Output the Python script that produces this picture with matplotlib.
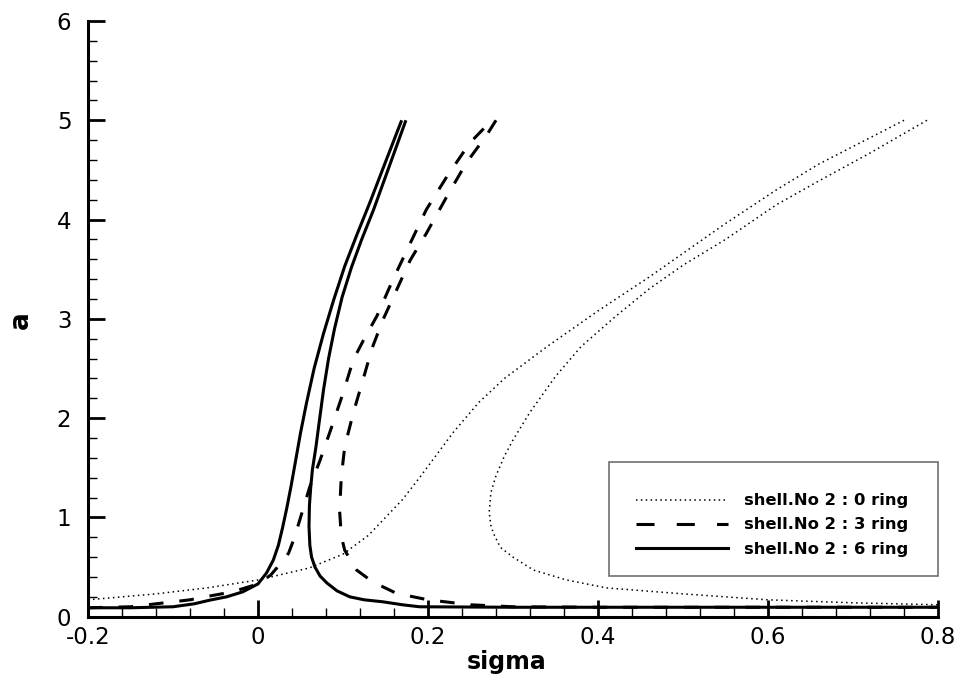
import matplotlib
matplotlib.use("Agg")
import matplotlib.pyplot as plt
from matplotlib.lines import Line2D
from matplotlib.patches import Rectangle
from matplotlib.ticker import MultipleLocator

plt.rcParams["font.family"] = ["DejaVu Sans"]
plt.rcParams["axes.unicode_minus"] = False
plt.rcParams["lines.scale_dashes"] = False

# Frequency-response curves: amplitude a versus detuning sigma.
# Each curve has a rising branch (left end up to a = 5) and a returning
# branch (from a = 5 back down to the right end).

# shell No 2, 0 ring
sigma_0ring_up = [-0.20, -0.12, -0.06, 0.00, 0.06, 0.10, 0.13, 0.15, 0.17, 0.19, 0.23,
                  0.26, 0.29, 0.34, 0.40, 0.46, 0.50, 0.55, 0.61, 0.66, 0.71, 0.76]
a_0ring_up = [0.17, 0.23, 0.29, 0.37, 0.49, 0.63, 0.82, 1.00, 1.18, 1.40, 1.86,
              2.16, 2.40, 2.72, 3.08, 3.42, 3.66, 3.96, 4.30, 4.56, 4.78, 5.00]
sigma_0ring_down = [0.787, 0.72, 0.66, 0.61, 0.55, 0.50, 0.46, 0.42, 0.38, 0.35, 0.32,
                    0.30, 0.29, 0.28, 0.274, 0.272, 0.274, 0.277, 0.285, 0.30, 0.324,
                    0.363, 0.41, 0.50, 0.60, 0.70, 0.80]
a_0ring_down = [5.00, 4.67, 4.39, 4.15, 3.80, 3.54, 3.30, 3.02, 2.72, 2.42, 2.06,
                1.78, 1.62, 1.42, 1.25, 1.05, 0.92, 0.84, 0.70, 0.60, 0.47,
                0.37, 0.29, 0.23, 0.17, 0.14, 0.12]

# shell No 2, 3 ring
sigma_3ring_up = [-0.20, -0.15, -0.10, -0.08, -0.056, -0.03, 0.00, 0.015, 0.025, 0.036,
                  0.043, 0.049, 0.055, 0.061, 0.073, 0.0866, 0.100, 0.112, 0.125, 0.140,
                  0.159, 0.179, 0.198, 0.222, 0.249, 0.275]
a_3ring_up = [0.09, 0.10, 0.15, 0.17, 0.21, 0.25, 0.33, 0.42, 0.52, 0.64,
              0.80, 0.97, 1.14, 1.31, 1.575, 1.91, 2.25, 2.585, 2.80, 3.03,
              3.40, 3.76, 4.10, 4.43, 4.77, 5.00]
sigma_3ring_down = [0.280, 0.269, 0.245, 0.222, 0.198, 0.179, 0.163, 0.147, 0.134, 0.124,
                    0.112, 0.102, 0.098, 0.096, 0.098, 0.102, 0.116, 0.135, 0.163, 0.20,
                    0.25, 0.30, 0.40, 0.50, 0.60, 0.70, 0.80]
a_3ring_down = [5.00, 4.85, 4.57, 4.23, 3.86, 3.59, 3.29, 2.99, 2.70, 2.40,
                2.05, 1.71, 1.41, 1.07, 0.81, 0.67, 0.47, 0.35, 0.235, 0.17,
                0.12, 0.10, 0.095, 0.095, 0.095, 0.095, 0.095]

# shell No 2, 6 ring
sigma_6ring_up = [-0.20, -0.15, -0.10, -0.075, -0.056, -0.037, -0.018, 0.000, 0.010,
                  0.018, 0.024, 0.029, 0.034, 0.039, 0.044, 0.050, 0.057, 0.066, 0.077,
                  0.089, 0.102, 0.116, 0.132, 0.150, 0.169]
a_6ring_up = [0.09, 0.09, 0.10, 0.13, 0.168, 0.20, 0.25, 0.33, 0.44,
              0.57, 0.72, 0.90, 1.10, 1.32, 1.56, 1.85, 2.15, 2.50, 2.85,
              3.19, 3.53, 3.84, 4.18, 4.58, 5.00]
sigma_6ring_down = [0.174, 0.155, 0.136, 0.122, 0.110, 0.099, 0.090, 0.083, 0.077, 0.072,
                    0.068, 0.064, 0.062, 0.0605, 0.060, 0.061, 0.063, 0.067, 0.073, 0.081,
                    0.093, 0.108, 0.125, 0.147, 0.170, 0.19, 0.30, 0.40, 0.50, 0.60,
                    0.70, 0.80]
a_6ring_down = [5.00, 4.55, 4.10, 3.80, 3.52, 3.22, 2.90, 2.60, 2.28, 1.96,
                1.70, 1.48, 1.30, 1.12, 0.91, 0.72, 0.60, 0.50, 0.41, 0.34,
                0.26, 0.20, 0.17, 0.15, 0.12, 0.10, 0.095, 0.095, 0.095, 0.095,
                0.095, 0.095]

series_labels = ["shell.No 2 : 0 ring", "shell.No 2 : 3 ring", "shell.No 2 : 6 ring"]
x_ticks = [-0.2, 0.0, 0.2, 0.4, 0.6, 0.8]
x_ticklabels = ["-0.2", "0", "0.2", "0.4", "0.6", "0.8"]
y_ticks = [0, 1, 2, 3, 4, 5, 6]
y_ticklabels = ["0", "1", "2", "3", "4", "5", "6"]

W, H = 959, 680
fig = plt.figure(figsize=(W / 100, H / 100), dpi=100)
ax = fig.add_axes([88 / W, 1 - 616.7 / H, 850 / W, (616.7 - 21) / H])

dot_kw = dict(color="black", lw=1.1, linestyle=(0, (1.1, 2.5)))
dash_kw = dict(color="black", lw=2.2, linestyle=(0, (10.5, 11.5)), dash_capstyle="butt")
solid_kw = dict(color="black", lw=2.2, solid_joinstyle="round", solid_capstyle="butt")

ax.plot(sigma_0ring_up, a_0ring_up, **dot_kw)
ax.plot(sigma_0ring_down, a_0ring_down, **dot_kw)
ax.plot(sigma_3ring_up, a_3ring_up, **dash_kw)
ax.plot(sigma_3ring_down, a_3ring_down, **dash_kw)
ax.plot(sigma_6ring_up, a_6ring_up, **solid_kw)
ax.plot(sigma_6ring_down, a_6ring_down, **solid_kw)

ax.set_xlim(-0.2, 0.8)
ax.set_ylim(0, 6)
ax.set_xticks(x_ticks)
ax.set_xticklabels(x_ticklabels)
ax.set_yticks(y_ticks)
ax.set_yticklabels(y_ticklabels)
ax.xaxis.set_minor_locator(MultipleLocator(0.04))
ax.yaxis.set_minor_locator(MultipleLocator(0.2))

for side in ("top", "right"):
    ax.spines[side].set_visible(False)
for side in ("left", "bottom"):
    ax.spines[side].set_linewidth(2.2)

ax.tick_params(which="major", direction="in", length=12, width=2.0, labelsize=16.5)
ax.tick_params(which="minor", direction="in", length=6.5, width=1.0)
ax.tick_params(axis="x", which="major", pad=7)
ax.tick_params(axis="y", which="major", pad=12)

ax.set_xlabel("sigma", fontsize=17, fontweight="bold")
ax.xaxis.set_label_coords(0.493, -0.056)
ax.set_ylabel("a", fontsize=19, fontweight="bold")
ax.yaxis.set_label_coords(-0.064, 0.498)

# Legend: outlined box with three keyed entries
box = Rectangle((609 / W, 1 - 576 / H), 329 / W, 114 / H, transform=fig.transFigure,
                facecolor="white", edgecolor="#707070", lw=1.2, zorder=3)
fig.add_artist(box)
handles = [
    Line2D([], [], color="black", lw=1.1, linestyle=(0, (1.1, 2.4))),
    Line2D([], [], color="black", lw=2.2, linestyle=(0, (13.0, 16.0)), dash_capstyle="butt"),
    Line2D([], [], color="black", lw=2.2),
]
leg = fig.legend(handles, series_labels, loc="center left",
                 bbox_to_anchor=(636 / W, 1 - 525 / H), bbox_transform=fig.transFigure,
                 frameon=False, borderpad=0, borderaxespad=0, handlelength=5.6,
                 handletextpad=1.0, labelspacing=0.55,
                 prop={"size": 11.8, "weight": "bold"})
leg.set_zorder(4)

fig.savefig("out.png", dpi=100)
